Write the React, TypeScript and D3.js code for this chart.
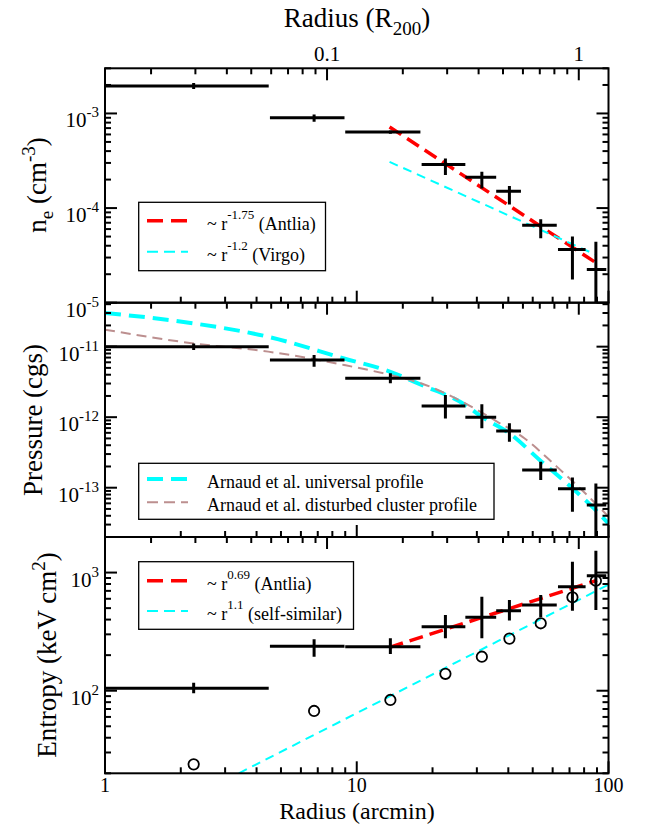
import * as d3 from "d3";

// radial bins (arcmin)
const radius = [2.25, 6.77, 13.6, 22.5, 31.4, 40.4, 53.8, 71.9, 89.1];
const radiusLo = [0.1, 4.52, 9.0, 18.1, 27.0, 35.8, 45.4, 63.0, 82.0];
const radiusHi = [4.47, 8.94, 17.9, 27.0, 35.8, 44.9, 62.3, 81.1, 98.0];
const r200Arcmin = 76.2;

// electron density (cm^-3)
const density = [1.95e-3, 9.0e-4, 6.35e-4, 2.89e-4, 2.12e-4, 1.51e-4, 6.6e-5, 3.65e-5, 2.24e-5];
const densityHi = [2.1e-3, 9.75e-4, 6.6e-4, 3.35e-4, 2.42e-4, 1.71e-4, 7.6e-5, 5.0e-5, 4.4e-5];
const densityLo = [1.81e-3, 8.15e-4, 6.1e-4, 2.23e-4, 1.61e-4, 1.09e-4, 4.8e-5, 1.76e-5, 5e-6];
const antliaDensity: [number, number][] = [[13.5, 7.2e-4], [91, 2.55e-5]];
const virgoDensity: [number, number][] = [[13.5, 3.08e-4], [88.5, 3.24e-5]];

// pressure (cgs)
const pressure = [1.0e-11, 6.45e-12, 3.55e-12, 1.44e-12, 1.0e-12, 6.37e-13, 1.78e-13, 9.7e-14, 5.7e-14];
const pressureHi = [1.11e-11, 7.6e-12, 4.18e-12, 2.06e-12, 1.52e-12, 8.2e-13, 2.34e-13, 1.4e-13, 1.15e-13];
const pressureLo = [0.9e-11, 5.2e-12, 3.02e-12, 9.6e-13, 6.95e-13, 4.5e-13, 1.29e-13, 4.57e-14, 1e-14];
const universalR = [1, 2.25, 4.45, 8.9, 13.6, 18.1, 27, 31.4, 40.4, 53.8, 71.9, 89, 100];
const universalP = [3.0e-11, 2.14e-11, 1.38e-11, 6.8e-12, 4.4e-12, 2.86e-12, 1.49e-12, 1.01e-12, 5.9e-13, 2.4e-13, 9.8e-14, 4.8e-14, 3.1e-14];
const disturbedR = [1, 2.25, 4.45, 8.9, 13.6, 18.1, 27, 35.8, 45.4, 62.3, 81, 100];
const disturbedP = [1.74e-11, 1.11e-11, 8.5e-12, 5.5e-12, 3.96e-12, 3.0e-12, 1.57e-12, 8.8e-13, 5.3e-13, 1.99e-13, 8.3e-14, 3.9e-14];

// entropy (keV cm^2)
const entropy = [105, 238, 236, 348, 419, 476, 532, 760, 942];
const entropyHi = [117, 272, 278, 437, 625, 586, 646, 1236, 1531];
const entropyLo = [95, 194, 205, 278, 278, 392, 419, 476, 482];
const entropyRef = [23.8, 67.4, 83.5, 139, 194, 276, 372, 618, 853];
const antliaEntropy: [number, number][] = [[13.5, 233], [90, 860]];
const selfSimilar: [number, number][] = [[3.4, 20], [100, 790]];

const FONT = "Liberation Serif, DejaVu Serif, serif";
const left = 105;
const right = 608.5;

const x = d3.scaleLog().domain([1, 100]).range([left, right]);
const xR = d3.scaleLog().domain([1 / r200Arcmin, 100 / r200Arcmin]).range([left, right]);

const yDen = d3.scaleLog().domain([1e-5, 3e-3]).range([302.7, 68.3]);
const yPre = d3.scaleLog().domain([2e-14, 4.2e-11]).range([537, 302.7]);
const yEnt = d3.scaleLog().domain([20, 2000]).range([773.3, 537]);

function logTicks(lo: number, hi: number) {
  const out: { v: number; major: boolean }[] = [];
  for (let e = Math.floor(Math.log10(lo)) - 1; e <= Math.ceil(Math.log10(hi)); e++) {
    for (let m = 1; m < 10; m++) {
      const v = m * Math.pow(10, e);
      if (v >= lo * 0.999 && v <= hi * 1.001) out.push({ v, major: m === 1 });
    }
  }
  return out;
}

const Pow = ({ px, py, e, anchor }: { px: number; py: number; e: string; anchor: string }) => (
  <text x={px} y={py} textAnchor={anchor} fontSize={21}>
    10<tspan dy={-10} fontSize={15}>{e}</tspan>
  </text>
);

function Frame({ y, id }: { y: d3.ScaleLogarithmic<number, number>; id: string }) {
  const [bottom, top] = y.range();
  const [lo, hi] = y.domain();
  const yt = logTicks(lo, hi);
  const xt = logTicks(1, 100);
  const rt = logTicks(1 / r200Arcmin, 100 / r200Arcmin);
  return (
    <g stroke="#000" strokeWidth={2}>
      <clipPath id={id}>
        <rect x={left} y={top} width={right - left} height={bottom - top} />
      </clipPath>
      {yt.map((t, i) => {
        const len = t.major ? 12 : 6;
        const yy = y(t.v);
        return (
          <g key={"y" + i}>
            <line x1={left} x2={left + len} y1={yy} y2={yy} />
            <line x1={right} x2={right - len} y1={yy} y2={yy} />
          </g>
        );
      })}
      {xt.map((t, i) => (
        <line key={"x" + i} x1={x(t.v)} x2={x(t.v)} y1={bottom} y2={bottom - (t.major ? 12 : 6)} />
      ))}
      {rt.map((t, i) => (
        <line key={"r" + i} x1={xR(t.v)} x2={xR(t.v)} y1={top} y2={top + (t.major ? 12 : 6)} />
      ))}
      <rect x={left} y={top} width={right - left} height={bottom - top} fill="none" />
    </g>
  );
}

function ErrorBars({ y, v, vLo, vHi, clip }: { y: d3.ScaleLogarithmic<number, number>; v: number[]; vLo: number[]; vHi: number[]; clip: string }) {
  return (
    <g stroke="#000" strokeWidth={3} clipPath={`url(#${clip})`}>
      {v.map((d, i) => (
        <g key={i}>
          <line x1={x(radiusLo[i])} x2={x(radiusHi[i])} y1={y(d)} y2={y(d)} />
          <line x1={x(radius[i])} x2={x(radius[i])} y1={y(vLo[i])} y2={y(vHi[i])} />
        </g>
      ))}
    </g>
  );
}

function curve(y: d3.ScaleLogarithmic<number, number>, pts: [number, number][]) {
  return d3
    .line<[number, number]>()
    .x((d) => x(d[0]))
    .y((d) => y(d[1]))
    .curve(d3.curveMonotoneX)(pts) as string;
}

function LegendRow({ ly, color, width, dash, children }: { ly: number; color: string; width: number; dash: string; children: any }) {
  return (
    <g>
      <line x1={147} x2={188} y1={ly} y2={ly} stroke={color} strokeWidth={width} strokeDasharray={dash} />
      <text x={207} y={ly + 9} fontSize={18}>
        {children}
      </text>
    </g>
  );
}

export default function App() {
  const zip = (a: number[], b: number[]) => a.map((d, i) => [d, b[i]] as [number, number]);
  return (
    <svg
      width={646}
      height={826}
      fontFamily={FONT}
      style={{ position: "absolute", left: 0, top: 0, background: "#fff", fontFamily: FONT }}
    >
      {/* top axis title */}
      <text x={357} y={27} textAnchor="middle" fontSize={27}>
        Radius (R<tspan dy={8} fontSize={19}>200</tspan>
        <tspan dy={-8}>)</tspan>
      </text>
      <text x={xR(0.1)} y={61} textAnchor="middle" fontSize={21}>0.1</text>
      <text x={xR(1)} y={61} textAnchor="middle" fontSize={21}>1</text>

      {/* density panel */}
      <g clipPath="url(#c1)">
        <path d={curve(yDen, antliaDensity)} fill="none" stroke="#ff0000" strokeWidth={3.5} strokeDasharray="14,7" />
        <path d={curve(yDen, virgoDensity)} fill="none" stroke="#00ffff" strokeWidth={2} strokeDasharray="9,6" />
      </g>
      <ErrorBars y={yDen} v={density} vLo={densityLo} vHi={densityHi} clip="c1" />
      <Frame y={yDen} id="c1" />
      <Pow px={99} py={yDen(1e-3) + 14} e="-3" anchor="end" />
      <Pow px={99} py={yDen(1e-4) + 14} e="-4" anchor="end" />
      <Pow px={99} py={yDen(1e-5) + 14} e="-5" anchor="end" />
      <text transform={`translate(46,185) rotate(-90)`} textAnchor="middle" fontSize={27}>
        n<tspan dy={7} fontSize={19}>e</tspan>
        <tspan dy={-7}> (cm</tspan>
        <tspan dy={-11} fontSize={19}>-3</tspan>
        <tspan dy={11}>)</tspan>
      </text>
      <rect x={138.7} y={202.3} width={186.8} height={68.4} fill="#fff" stroke="#000" strokeWidth={1.3} />
      <LegendRow ly={220.7} color="#ff0000" width={3.5} dash="16,8">
        ~ r<tspan dy={-11} fontSize={13}>-1.75</tspan>
        <tspan dy={11}> (Antlia)</tspan>
      </LegendRow>
      <LegendRow ly={251.7} color="#00ffff" width={2} dash="11,6">
        ~ r<tspan dy={-11} fontSize={13}>-1.2</tspan>
        <tspan dy={11}> (Virgo)</tspan>
      </LegendRow>

      {/* pressure panel */}
      <g clipPath="url(#c2)">
        <path d={curve(yPre, zip(universalR, universalP))} fill="none" stroke="#00ffff" strokeWidth={4} strokeDasharray="16,8" />
        <path d={curve(yPre, zip(disturbedR, disturbedP))} fill="none" stroke="#bc8f8f" strokeWidth={2} strokeDasharray="10,6" />
      </g>
      <ErrorBars y={yPre} v={pressure} vLo={pressureLo} vHi={pressureHi} clip="c2" />
      <Frame y={yPre} id="c2" />
      <Pow px={99} py={yPre(1e-11) + 14} e="-11" anchor="end" />
      <Pow px={99} py={yPre(1e-12) + 14} e="-12" anchor="end" />
      <Pow px={99} py={yPre(1e-13) + 14} e="-13" anchor="end" />
      <text transform={`translate(42,420) rotate(-90)`} textAnchor="middle" fontSize={27}>
        Pressure (cgs)
      </text>
      <rect x={138.7} y={463.3} width={355.3} height={56} fill="#fff" stroke="#000" strokeWidth={1.3} />
      <LegendRow ly={479} color="#00ffff" width={4} dash="16,8">
        Arnaud et al. universal profile
      </LegendRow>
      <LegendRow ly={502.3} color="#bc8f8f" width={2} dash="11,6">
        Arnaud et al. disturbed cluster profile
      </LegendRow>

      {/* entropy panel */}
      <g clipPath="url(#c3)">
        <path d={curve(yEnt, antliaEntropy)} fill="none" stroke="#ff0000" strokeWidth={3.5} strokeDasharray="14,7" />
        <path d={curve(yEnt, selfSimilar)} fill="none" stroke="#00ffff" strokeWidth={2} strokeDasharray="9,6" />
        {entropyRef.map((d, i) => (
          <circle key={i} cx={x(radius[i])} cy={yEnt(d)} r={5.2} fill="none" stroke="#000" strokeWidth={1.8} />
        ))}
      </g>
      <ErrorBars y={yEnt} v={entropy} vLo={entropyLo} vHi={entropyHi} clip="c3" />
      <Frame y={yEnt} id="c3" />
      <Pow px={99} py={yEnt(1e3) + 14} e="3" anchor="end" />
      <Pow px={99} py={yEnt(1e2) + 14} e="2" anchor="end" />
      <text transform={`translate(56,655) rotate(-90)`} textAnchor="middle" fontSize={27}>
        Entropy (keV cm<tspan dy={-11} fontSize={19}>2</tspan>
        <tspan dy={11}>)</tspan>
      </text>
      <rect x={138.7} y={561.7} width={214.8} height={67.6} fill="#fff" stroke="#000" strokeWidth={1.3} />
      <LegendRow ly={580.7} color="#ff0000" width={3.5} dash="16,8">
        ~ r<tspan dy={-11} fontSize={13}>0.69</tspan>
        <tspan dy={11}> (Antlia)</tspan>
      </LegendRow>
      <LegendRow ly={611} color="#00ffff" width={2} dash="11,6">
        ~ r<tspan dy={-11} fontSize={13}>1.1</tspan>
        <tspan dy={11}> (self-similar)</tspan>
      </LegendRow>

      {/* bottom axis */}
      {[1, 10, 100].map((v) => (
        <text key={v} x={x(v)} y={792} textAnchor="middle" fontSize={20}>
          {v}
        </text>
      ))}
      <text x={357} y={819} textAnchor="middle" fontSize={24}>
        Radius (arcmin)
      </text>
    </svg>
  );
}
